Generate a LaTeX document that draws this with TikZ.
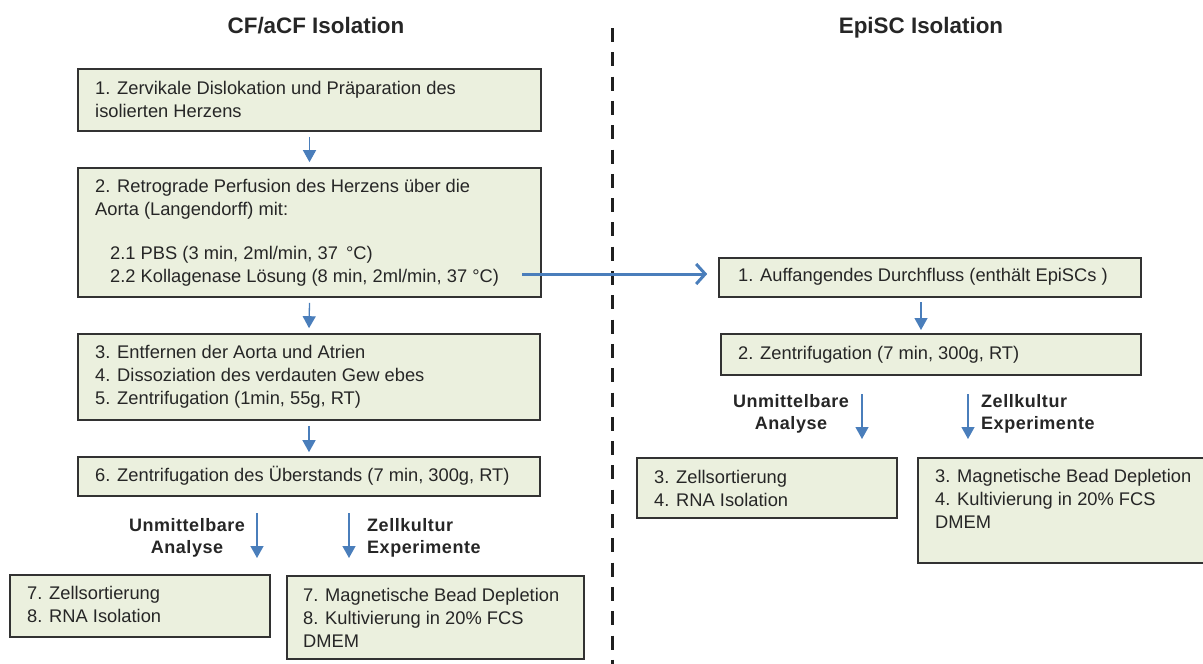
\documentclass[tikz,border=0pt]{standalone}
\usepackage{fontspec}
\setmainfont{Liberation Sans}
\usetikzlibrary{arrows.meta,calc}
\definecolor{boxfill}{RGB}{235,240,222}
\definecolor{boxline}{RGB}{50,50,50}
\definecolor{arrowblue}{RGB}{74,126,187}
\begin{document}
\begin{tikzpicture}[x=1pt,y=-1pt,
  box/.style={draw=boxline, fill=boxfill, line width=1.6pt, inner sep=0pt},
  txt/.style={font=\fontsize{18.3}{23}\selectfont, align=left, inner sep=0pt, anchor=west, text=black!85},
  lbl/.style={font=\fontsize{18}{22}\selectfont\bfseries\addfontfeature{LetterSpace=3}, inner sep=0pt, text=black!85},
  ttl/.style={font=\fontsize{22.4}{26}\selectfont\bfseries, inner sep=0pt, text=black!85, anchor=base},
  flow/.style={draw=arrowblue, line width=1.3pt, -{Triangle[width=13pt,length=12pt]}},
  bigflow/.style={draw=arrowblue, line width=3pt, -{Straight Barb[length=9pt,width=20pt,line width=3pt]}},
  divider/.style={draw=black!88, line width=3pt, dash pattern=on 14pt off 10.3pt}
]
\useasboundingbox (0,0) rectangle (1203,664);

% titles
\node[ttl] (title1) at (316,33) {CF/aCF Isolation};
\node[ttl] (title2) at (921,33) {EpiSC Isolation};

% divider
\coordinate (divtop) at (612.5,28);
\coordinate (divbot) at (612.5,664);
\draw[divider] (divtop) -- (divbot);

% left boxes
\node[box, minimum width=463pt, minimum height=62pt] (b1) at (309.5,100) {};
\node[box, minimum width=463pt, minimum height=129pt] (b2) at (309.5,232.5) {};
\node[box, minimum width=462pt, minimum height=86pt] (b3) at (309,377) {};
\node[box, minimum width=462pt, minimum height=39pt] (b4) at (309,476.5) {};
\node[box, minimum width=260pt, minimum height=62pt] (b5) at (140,606) {};
\node[box, minimum width=297pt, minimum height=83pt] (b6) at (435.5,617.5) {};

\node[txt] (t1) at (95,99) {1. Zervikale Dislokation und Präparation des\\isolierten Herzens};
\node[txt] (t2) at (95,233) {2. Retrograde Perfusion des Herzens über die\\Aorta (Langendorff) mit:\\[21pt]\hspace*{15pt}2.1 PBS (3 min, 2ml/min, 37 \,°C)\\\hspace*{15pt}2.2 Kollagenase Lösung (8 min, 2ml/min, 37 °C)};
\node[txt] (t3) at (95,377) {3. Entfernen der Aorta und Atrien\\4. Dissoziation des verdauten Gew ebes\\5. Zentrifugation (1min, 55g, RT)};
\node[txt] (t4) at (95,476) {6. Zentrifugation des Überstands (7 min, 300g, RT)};
\node[txt] (t5) at (27,604) {7. Zellsortierung\\8. RNA Isolation};
\node[txt] (t6) at (303,618) {7. Magnetische Bead Depletion\\8. Kultivierung in 20\% FCS\\DMEM};

\node[lbl, align=center] (l1) at (187,538) {Unmittelbare\\Analyse};
\node[lbl, align=left, anchor=west] (l2) at (367,538) {Zellkultur\\Experimente};

% left arrows
\draw[flow] (b1.south) ++(0,5) -- ($(b2.north)+(0,-5)$);
\draw[flow] ($(b2.south)+(0,5)$) -- ($(b3.north)+(0,-5)$);
\draw[flow] ($(b3.south)+(0,5)$) -- ($(b4.north)+(0,-4)$);
\coordinate (la1) at (257,513); \coordinate (la2) at (257,558);
\coordinate (ra1) at (349,513); \coordinate (ra2) at (349,558);
\draw[flow] (la1) -- (la2);
\draw[flow] (ra1) -- (ra2);

% right boxes
\node[box, minimum width=422pt, minimum height=39pt] (r1) at (930,277.5) {};
\node[box, minimum width=420pt, minimum height=41pt] (r2) at (931,354.5) {};
\node[box, minimum width=260pt, minimum height=60pt] (r3) at (767,488) {};
\node[box, minimum width=290pt, minimum height=105pt, anchor=west] (r4) at (917,510.5) {};

\node[txt] (s1) at (738,277) {1. Auffangendes Durchfluss (enthält EpiSCs )};
\node[txt] (s2) at (738,355) {2. Zentrifugation (7 min, 300g, RT)};
\node[txt] (s3) at (654,488) {3. Zellsortierung\\4. RNA Isolation};
\node[txt] (s4) at (935,499) {3. Magnetische Bead Depletion\\4. Kultivierung in 20\% FCS\\DMEM};

\node[lbl, align=center] (m1) at (791,414) {Unmittelbare\\Analyse};
\node[lbl, align=left, anchor=west] (m2) at (981,414) {Zellkultur\\Experimente};

% right arrows
\coordinate (rr1) at (921,302); \coordinate (rr2) at (921,330);
\draw[flow] (rr1) -- (rr2);
\coordinate (rb1) at (862,394); \coordinate (rb2) at (862,439);
\coordinate (rc1) at (968,394); \coordinate (rc2) at (968,439);
\draw[flow] (rb1) -- (rb2);
\draw[flow] (rc1) -- (rc2);

% cross arrow
\coordinate (cs) at (522,274);
\draw[bigflow] (cs) -- ($(r1.west|-cs)+(-11,0)$);
\end{tikzpicture}
\end{document}
